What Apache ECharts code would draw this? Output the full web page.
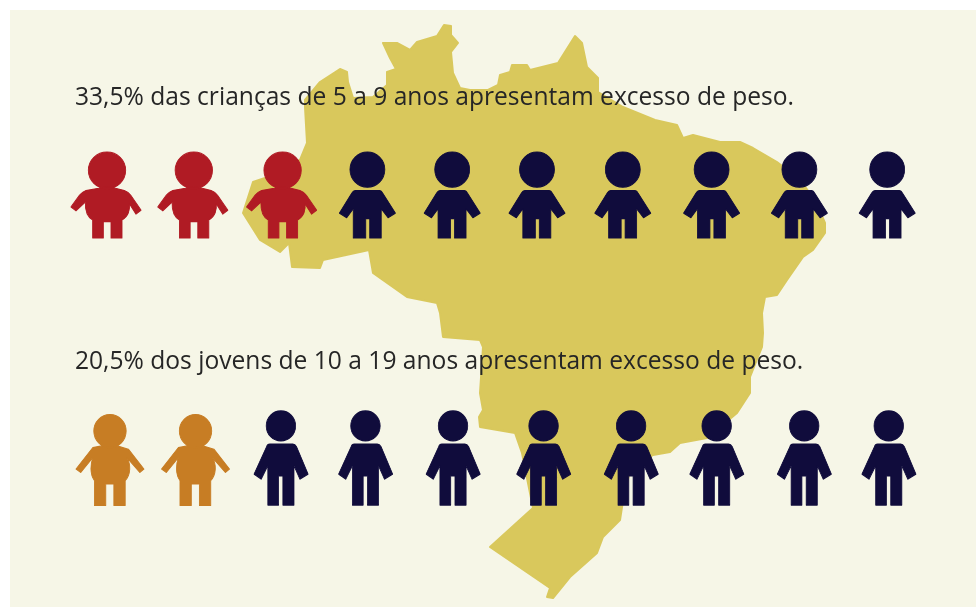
<!DOCTYPE html>
<html>
<head>
<meta charset="utf-8">
<style>
html,body{margin:0;padding:0;background:#fff;width:976px;height:607px;overflow:hidden}
#paper{position:absolute;left:10px;top:10px;width:966px;height:597px;background:#f6f6e7}
#chart{position:absolute;left:0;top:0;width:976px;height:607px}
</style>
<script src="https://cdn.jsdelivr.net/npm/echarts@6/dist/echarts.min.js"></script>
</head>
<body>
<div id="paper"></div>
<div id="chart"></div>
<script>
// --- data ---
const iconCategories = ['1','2','3','4','5','6','7','8','9','10'];
const childrenText = '33,5% das crianças de 5 a 9 anos apresentam excesso de peso.';
const youthText = '20,5% dos jovens de 10 a 19 anos apresentam excesso de peso.';
const childrenOverweight = [1,1,1,0,0,0,0,0,0,0];
const youthOverweight    = [1,1,0,0,0,0,0,0,0,0];
// Brazil outline (shape geometry for the base map)
const brazilOutline = [
 [305,107],[305,100],[320,82],[340,69],[347,72],[348,82],[353,98],[373,97],[387,85],[387,72],[396,69],
 [390,58],[383,43],[397,43],[410,50],[417,42],[437,36],[444,25],[451,26],[451,35],[458,43],[451,52],
 [453,73],[460,88],[470,90],[488,90],[498,85],[500,75],[510,72],[512,65],[527,65],[530,70],[558,63],
 [575,36],[582,43],[587,67],[598,78],[598,92],[623,107],[655,120],[677,125],[683,138],[693,135],[720,142],
 [740,142],[753,148],[777,162],[800,180],[815,200],[825,223],[825,233],[813,250],[803,257],[787,280],[777,295],
 [765,297],[762,313],[763,333],[762,347],[750,377],[750,393],[737,413],[707,438],[680,443],[670,452],
 [653,455],[630,470],[622,507],[620,520],[603,537],[597,553],[570,577],[553,598],[547,597],[550,588],
 [490,547],[533,508],[522,453],[515,433],[480,427],[479,417],[483,410],[480,393],[483,347],[480,340],
 [443,337],[440,313],[437,303],[407,297],[373,273],[369,250],[323,260],[320,268],[292,267],[289,243],
 [280,252],[260,240],[243,213],[253,182],[265,178],[300,160],[307,143],[305,107]
];

// --- icon glyphs and styling ---
const circle = (cx,cy,r) => `M${cx-r},${cy}A${r},${r} 0 1 1 ${cx+r},${cy}A${r},${r} 0 1 1 ${cx-r},${cy}Z`;
const thinA = 'path://' + circle(85,52,53) +
 'M48,115L122,115Q128,115 131,122L170,183L148,197L127,170L127,258L92,258L92,200L80,200L80,258L42,258L42,170L22,197L0,183L38,122Q42,115 48,115Z';
const thinB = 'path://' + circle(82,45,45) +
 'M48,100L118,100Q126,100 130,108L165,190L140,205L122,165L122,283L88,283L88,195L75,195L75,283L42,283L42,165L22,205L0,190L38,108Q40,100 48,100Z';
const chubbyA = 'path://' + circle(108,55,56) +
 'M83,110C100,106 118,106 133,110L160,117C170,121 176,126 180,132L210,177L195,189L175,157C178,175 172,197 153,207L153,262L120,262L120,212L97,212L97,262L65,262L65,207C48,197 42,175 43,152L15,179L0,167L25,132C30,125 38,120 45,117Z';
const chubbyB = 'path://' + circle(105,50,50) +
 'M80,95L127,95C145,100 155,103 162,105L210,165L197,175L157,130C170,150 170,180 152,200L152,275L117,275L117,210L92,210L92,275L57,275L57,200C42,180 45,150 52,130L15,175L0,165L52,100Z';

const navy='#100c3c', red='#b01b24', orange='#c77d24', yellow='#d9c85c', ink='#262626';
const nudge1 = [0,0,2,1,-1,-3,-4,-2,-1,0];
const nudge2 = [0,-1,-2,-4,-3,1,2,1,2,0];

echarts.registerMap('brasil',{type:'FeatureCollection',features:[{type:'Feature',properties:{name:'Brasil'},
  geometry:{type:'Polygon',coordinates:[brazilOutline]}}]});

function rowSeries(gridIndex, flags, hitSymbol, hitSize, hitColor, baseSymbol, baseSize, nudge, hitDy){
  const mk = (want, symbol, size, color, dy) => ({
    type:'scatter', xAxisIndex:gridIndex, yAxisIndex:gridIndex, silent:true, z:3,
    symbol, symbolSize:size, itemStyle:{color, opacity:1, borderColor:color, borderWidth:1, borderJoin:'round'},
    data: flags.map((f,i)=> f===want ? {value:[iconCategories[i],'a'], symbolOffset:[nudge[i],dy]} : null).filter(Boolean)
  });
  return [mk(1,hitSymbol,hitSize,hitColor,hitDy), mk(0,baseSymbol,baseSize,navy,0)];
}

const chart = echarts.init(document.getElementById('chart'),null,{renderer:'canvas'});
const textStyle = {fontFamily:'"Open Sans"',fontSize:24.6,fontWeight:400,color:ink};
chart.setOption({
  animation:false,
  backgroundColor:'transparent',
  title:[
    {text:childrenText,left:75,top:85,padding:0,textStyle},
    {text:youthText,left:75,top:349,padding:0,textStyle}
  ],
  geo:{map:'brasil',silent:true,roam:false,aspectScale:1,
    projection:{project:p=>p,unproject:p=>p},
    boundingCoords:[[0,0],[976,607]],
    left:0,top:0,width:976,height:607,
    label:{show:false},
    itemStyle:{areaColor:yellow,borderColor:yellow,borderWidth:2,borderJoin:'round'},
    emphasis:{disabled:true},select:{disabled:true},z:1},
  grid:[
    {left:62.6,width:868,top:150,height:90},
    {left:66.7,width:865.5,top:413,height:90}
  ],
  xAxis:[0,1].map(i=>({gridIndex:i,type:'category',data:iconCategories,show:false})),
  yAxis:[0,1].map(i=>({gridIndex:i,type:'category',data:['a'],show:false})),
  series:[
    ...rowSeries(0,childrenOverweight,chubbyA,[70,86],red,thinA,[56,86],nudge1,0),
    ...rowSeries(1,youthOverweight,chubbyB,[68,91],orange,thinB,[54,94],nudge2,2)
  ]
});
</script>
</body>
</html>
